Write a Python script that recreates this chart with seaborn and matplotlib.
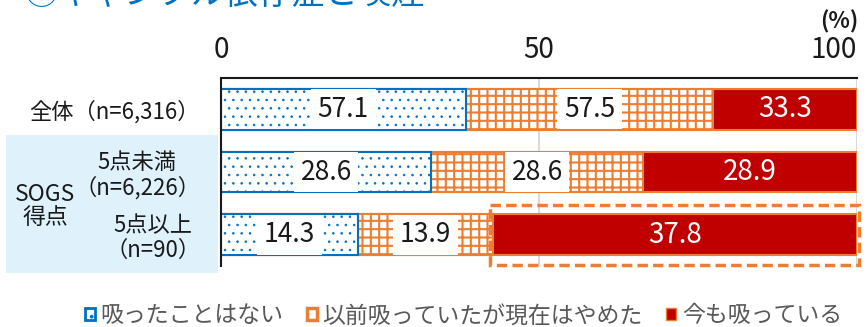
import matplotlib
matplotlib.use("Agg")
import matplotlib.pyplot as plt
import seaborn as sns
import pandas as pd
import numpy as np
from matplotlib.patches import Rectangle, Patch

# ---- data ----
categories = ["全体（n=6,316）", "5点未満\n（n=6,226）", "5点以上\n（n=90）"]
series_names = ["吸ったことはない", "以前吸っていたが現在はやめた", "今も吸っている"]
never_width = [38.5, 33.1, 21.5]
quit_width = [38.9, 33.3, 21.3]
now_width = [22.6, 33.6, 57.2]
never_label = ["57.1", "28.6", "14.3"]
quit_label = ["57.5", "28.6", "13.9"]
now_label = ["33.3", "28.9", "37.8"]
x_ticks = [0, 50, 100]

BLUE = "#0070C0"
ORANGE = "#ED7D31"
RED = "#C00000"
FONT = ["Noto Sans CJK JP", "DejaVu Sans"]

sns.set_theme(style="white")
plt.rcParams["font.family"] = FONT
plt.rcParams["hatch.linewidth"] = 1.5

df = pd.DataFrame({
    "cat": categories,
    "never": never_width,
    "quit": quit_width,
    "now": now_width,
})
df["c1"] = df["never"]
df["c2"] = df["never"] + df["quit"]
df["c3"] = df["c2"] + df["now"]

fig = plt.figure(figsize=(8.66, 3.27), dpi=100)
ax = fig.add_axes([221 / 866, 1 - 266 / 327, 635.7 / 866, 188 / 327])

bw = 0.65
sns.barplot(data=df, x="c3", y="cat", orient="h", color=RED, saturation=1,
            edgecolor=ORANGE, linewidth=1.5, width=bw, ax=ax)
with plt.rc_context({"hatch.linewidth": 1.5}):
    sns.barplot(data=df, x="c2", y="cat", orient="h", color="white", saturation=1,
                edgecolor=ORANGE, linewidth=1.5, width=bw, hatch="++", ax=ax)
with plt.rc_context({"hatch.linewidth": 0.6}):
    sns.barplot(data=df, x="c1", y="cat", orient="h", color="white", saturation=1,
                edgecolor=BLUE, linewidth=1.5, width=bw, hatch="..", ax=ax)

# labels
for i in range(len(categories)):
    c1 = df["c1"][i]
    c2 = df["c2"][i]
    c3 = df["c3"][i]
    ax.text(c1 / 2, i, never_label[i], ha="center", va="center",
            fontsize=19, color="#1a1a1a",
            bbox=dict(boxstyle="square,pad=0.25", facecolor="white", edgecolor="none"))
    ax.text((c1 + c2) / 2, i, quit_label[i], ha="center", va="center",
            fontsize=19, color="#1a1a1a",
            bbox=dict(boxstyle="square,pad=0.25", facecolor="white", edgecolor="none"))
    ax.text((c2 + c3) / 2, i, now_label[i], ha="center", va="center",
            fontsize=20, color="white")

# dashed highlight around last row's red segment
i = 2
x0 = df["c2"][i] - 0.5
ax.add_patch(Rectangle((x0, i - 0.48), df["c3"][i] - x0 + 0.3, 0.96, fill=False,
                       edgecolor=ORANGE, linestyle=(0, (3, 1.5)), linewidth=2.5,
                       clip_on=False, zorder=5))

ax.set_xlim(0, 100)
ax.set_ylim(2.5, -0.5)
ax.set_xlabel("")
ax.set_ylabel("")
ax.xaxis.tick_top()
ax.set_xticks(x_ticks)
ax.set_xticklabels([str(t) for t in x_ticks])
ax.tick_params(axis="x", length=0, pad=9, labelsize=20, colors="#1a1a1a")
ax.tick_params(axis="y", length=0, pad=15, labelsize=16, colors="#1a1a1a")
xl = ax.get_xticklabels()
xl[-1].set_horizontalalignment("right")
for lab in ax.get_yticklabels():
    lab.set_multialignment("center")
    lab.set_linespacing(1.1)
ax.grid(axis="x", color="#d9d9d9", linewidth=1.5)
ax.set_axisbelow(True)
for s in ["right", "bottom"]:
    ax.spines[s].set_visible(False)
for s in ["top", "left"]:
    ax.spines[s].set_color("#1a1a1a")
    ax.spines[s].set_linewidth(1.5)

# group box
fig.patches.append(Rectangle((6 / 866, 1 - 273 / 327), 212 / 866, 138 / 327,
                             transform=fig.transFigure, facecolor="#dff2fc",
                             edgecolor="none", zorder=-1))
fig.text(45 / 866, 1 - 206 / 327, "SOGS\n得点", ha="center", va="center",
         fontsize=16.5, color="#1a1a1a", linespacing=1.0)

fig.text(858 / 866, 1 - 22 / 327, "(%)", ha="right", va="center", fontsize=16,
         fontweight="bold", color="#1a1a1a")

fig.text(25 / 866, 1 - 4 / 327, "⑤ギャンブル依存症と喫煙", ha="left", va="baseline",
         fontsize=24, color=BLUE)

handles = [
    Patch(facecolor="white", edgecolor=BLUE, hatch="..", linewidth=2),
    Patch(facecolor="white", edgecolor=ORANGE, linewidth=2.5),
    Patch(facecolor=RED, edgecolor=ORANGE, linewidth=1),
]
leg = fig.legend(handles, series_names, loc="center", bbox_to_anchor=(0.535, 1 - 316 / 327),
                 ncol=3, frameon=False, fontsize=16.5, handlelength=0.45, handleheight=0.45,
                 handletextpad=0.25, columnspacing=1.0, borderpad=0)
for t in leg.get_texts():
    t.set_color("#595959")

fig.savefig("out.png", dpi=100)
